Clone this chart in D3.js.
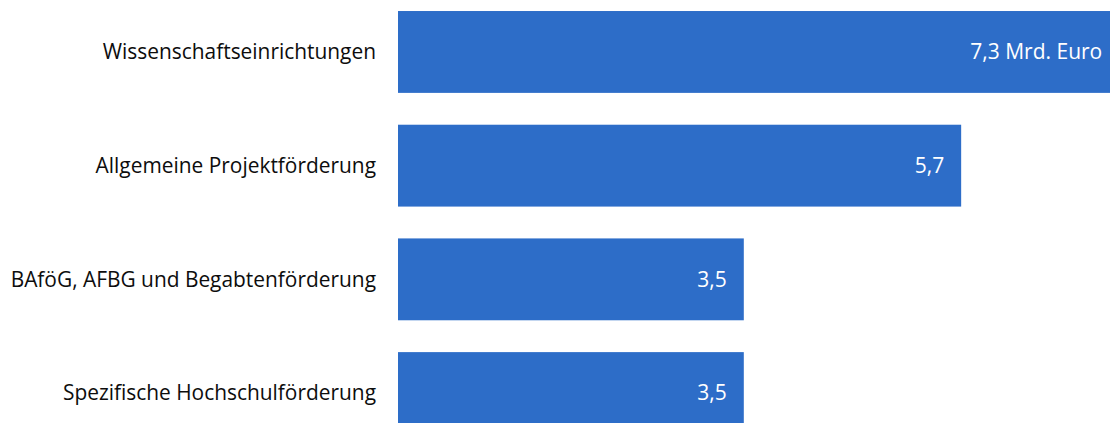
<!DOCTYPE html>
<html>
<head>
<meta charset="utf-8">
<script src="https://cdn.jsdelivr.net/npm/d3@7"></script>
<style>
  html, body { margin: 0; padding: 0; background: #fff; }
  svg { display: block; }
  text { font-family: "Open Sans", "Noto Sans", sans-serif; }
</style>
</head>
<body>
<svg id="chart" width="1110" height="423"></svg>
<script>
// Ausgaben nach Förderbereichen (Mrd. Euro)
const categories = [
  "Wissenschaftseinrichtungen",
  "Allgemeine Projektförderung",
  "BAföG, AFBG und Begabtenförderung",
  "Spezifische Hochschulförderung"
];
const values = [7.3, 5.7, 3.5, 3.5];
const valueLabels = ["7,3 Mrd. Euro", "5,7", "3,5", "3,5"];

const width = 1110, height = 423;
const svg = d3.select("#chart");

const x = d3.scaleLinear().domain([0, 1]).range([398, 496.8]);
const y = d3.scaleBand()
  .domain(categories)
  .range([-4.9, 449.9])
  .paddingInner(0.28)
  .paddingOuter(0.14);

const data = categories.map((c, i) => ({ c, v: values[i], label: valueLabels[i] }));

svg.selectAll("rect.bar")
  .data(data)
  .join("rect")
  .attr("class", "bar")
  .attr("x", x(0))
  .attr("y", d => y(d.c))
  .attr("width", d => x(d.v) - x(0))
  .attr("height", y.bandwidth())
  .attr("fill", "#2d6dc8");

// Kategorienbeschriftung links
svg.selectAll("text.cat")
  .data(data)
  .join("text")
  .attr("class", "cat")
  .attr("x", x(0) - 22)
  .attr("y", d => y(d.c) + y.bandwidth() / 2)
  .attr("dy", "0.35em")
  .attr("text-anchor", "end")
  .attr("font-size", 20.9)
  .attr("fill", "#0d0d0d")
  .text(d => d.c);

// Werte im Balken
svg.selectAll("text.val")
  .data(data)
  .join("text")
  .attr("class", "val")
  .attr("x", d => x(d.v) - 17)
  .attr("y", d => y(d.c) + y.bandwidth() / 2)
  .attr("dy", "0.35em")
  .attr("text-anchor", "end")
  .attr("font-size", 21)
  .attr("fill", "#fff")
  .text(d => d.label);
</script>
</body>
</html>
